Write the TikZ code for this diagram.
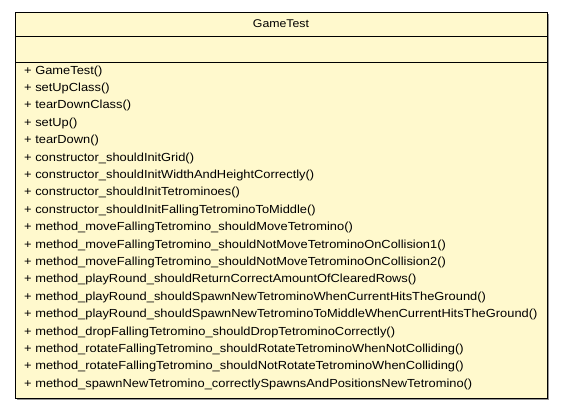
\documentclass[tikz,border=0pt]{standalone}
\usepackage{fontspec}
\setmainfont{Liberation Sans}
\newfontfamily\umlfont[FakeStretch=1.1]{Liberation Sans}
\usepackage{xcolor}
\usepackage{tikz}
\usetikzlibrary{positioning}
\definecolor{umlfill}{RGB}{255,249,205}
\definecolor{umlshadow}{RGB}{150,150,150}

\begin{document}
\begin{tikzpicture}[x=1pt,y=-1pt,
    method/.style={anchor=west, inner sep=0pt, font=\umlfont\fontsize{11.7}{13}\selectfont}]

  \useasboundingbox (0,0) rectangle (563,409);

  % class box with shadow
  \fill[umlshadow] (17,14) rectangle (549,400);
  \draw[fill=umlfill, line width=0.8pt] (15,12) rectangle (547,398);
  \draw[line width=0.8pt] (15,36) -- (547,36);
  \draw[line width=0.8pt] (15,62) -- (547,62);

  \node[font=\umlfont\fontsize{11.2}{13}\selectfont] (title) at (281,24) {GameTest};

  % operations
  \foreach \m [count=\i] in {GameTest(), setUpClass(), tearDownClass(), setUp(), tearDown(),
      constructor\_shouldInitGrid(),
      constructor\_shouldInitWidthAndHeightCorrectly(),
      constructor\_shouldInitTetrominoes(),
      constructor\_shouldInitFallingTetrominoToMiddle(),
      method\_moveFallingTetromino\_shouldMoveTetromino(),
      method\_moveFallingTetromino\_shouldNotMoveTetrominoOnCollision1(),
      method\_moveFallingTetromino\_shouldNotMoveTetrominoOnCollision2(),
      method\_playRound\_shouldReturnCorrectAmountOfClearedRows(),
      method\_playRound\_shouldSpawnNewTetrominoWhenCurrentHitsTheGround(),
      method\_playRound\_shouldSpawnNewTetrominoToMiddleWhenCurrentHitsTheGround(),
      method\_dropFallingTetromino\_shouldDropTetrominoCorrectly(),
      method\_rotateFallingTetromino\_shouldRotateTetrominoWhenNotColliding(),
      method\_rotateFallingTetromino\_shouldNotRotateTetrominoWhenColliding(),
      method\_spawnNewTetromino\_correctlySpawnsAndPositionsNewTetromino()}
    \node[method] (op\i) at (24,{71+17.4*(\i-1)}) {+ \m};

\end{tikzpicture}
\end{document}
